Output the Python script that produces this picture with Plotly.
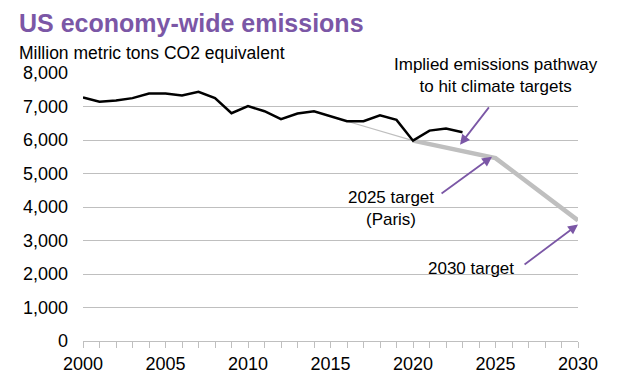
import plotly.graph_objects as go

years = list(range(2000, 2024))
emissions = [7270, 7140, 7180, 7250, 7390, 7390, 7330, 7440, 7250, 6800,
             7010, 6860, 6620, 6790, 6860, 6700, 6560, 6560, 6740, 6600,
             5980, 6280, 6340, 6230]

path_thin_years = [2016, 2020]
path_thin_values = [6560, 5980]
path_thick_years = [2020, 2025, 2030]
path_thick_values = [5980, 5460, 3600]

y_ticks = [0, 1000, 2000, 3000, 4000, 5000, 6000, 7000, 8000]
x_ticks = [2000, 2005, 2010, 2015, 2020, 2025, 2030]

PURPLE = "#7B57A6"
GRAY = "#BFBFBF"
FONT = "Liberation Sans, Arial, sans-serif"

W, H = 619, 379
ml, mr, mt, mb = 83, 41, 73, 38
pw, ph = W - ml - mr, H - mt - mb

fig = go.Figure()
fig.add_trace(go.Scatter(x=path_thin_years, y=path_thin_values, mode="lines",
                         line=dict(color=GRAY, width=1.2), hoverinfo="skip"))
fig.add_trace(go.Scatter(x=path_thick_years, y=path_thick_values, mode="lines",
                         line=dict(color=GRAY, width=4.5), hoverinfo="skip"))
fig.add_trace(go.Scatter(x=years, y=emissions, mode="lines",
                         line=dict(color="black", width=2.5)))

# arrows (tail -> head) in data coordinates
arrows = [
    ((2024.67, 7020), (2022.85, 5860)),
    ((2021.64, 4370), (2024.79, 5500)),
    ((2026.67, 2250), (2030.0, 3480)),
]
for (tx, ty), (hx, hy) in arrows:
    fig.add_annotation(x=hx, y=hy, ax=tx, ay=ty, xref="x", yref="y",
                       axref="x", ayref="y", text="", showarrow=True,
                       arrowhead=2, arrowsize=1.1, arrowwidth=1.8,
                       arrowcolor=PURPLE)

texts = [
    (2025.05, 7920, "Implied emissions pathway<br>to hit climate targets"),
    (2018.64, 3950, "2025 target<br>(Paris)"),
    (2023.5, 2170, "2030 target"),
]
for x, y, t in texts:
    fig.add_annotation(x=x, y=y, xref="x", yref="y", text=t, showarrow=False,
                       font=dict(family=FONT, size=17, color="black"),
                       align="center", xanchor="center", yanchor="middle")

for px, py, t, size, color in [
    (17, 23, "<b>US economy-wide emissions</b>", 25, PURPLE),
    (17, 53, "Million metric tons CO2 equivalent", 17.5, "black"),
]:
    fig.add_annotation(x=(px - ml) / pw, y=1 - (py - mt) / ph, xref="paper", yref="paper",
                       text=t, showarrow=False, xanchor="left", yanchor="middle",
                       font=dict(family=FONT, size=size, color=color))

fig.update_layout(
    width=W, height=H,
    margin=dict(l=ml, r=mr, t=mt, b=mb, autoexpand=False),
    paper_bgcolor="white", plot_bgcolor="white",
    showlegend=False,
    font=dict(family=FONT, size=18, color="black"),
    xaxis=dict(range=[2000, 2030], tickvals=x_ticks, showgrid=False,
               showline=True, linecolor=GRAY, linewidth=1,
               ticks="outside", ticklen=6, tickcolor=GRAY, tickwidth=1,
               minor=dict(dtick=1, tick0=2000, ticks="outside", ticklen=6,
                          tickcolor=GRAY, tickwidth=1, showgrid=False),
               tickfont=dict(size=18), zeroline=False, fixedrange=True,
               automargin=False),
    yaxis=dict(range=[0, 8000], tickvals=y_ticks, tickformat=",d",
               showgrid=True, gridcolor=GRAY, gridwidth=1,
               showline=False, zeroline=False, ticks="",
               ticklabelstandoff=14, tickfont=dict(size=18), fixedrange=True,
               automargin=False),
)

fig.write_html("out.html", config={"displayModeBar": False},
               post_script="document.body.style.margin='0';document.body.style.overflow='hidden';")
